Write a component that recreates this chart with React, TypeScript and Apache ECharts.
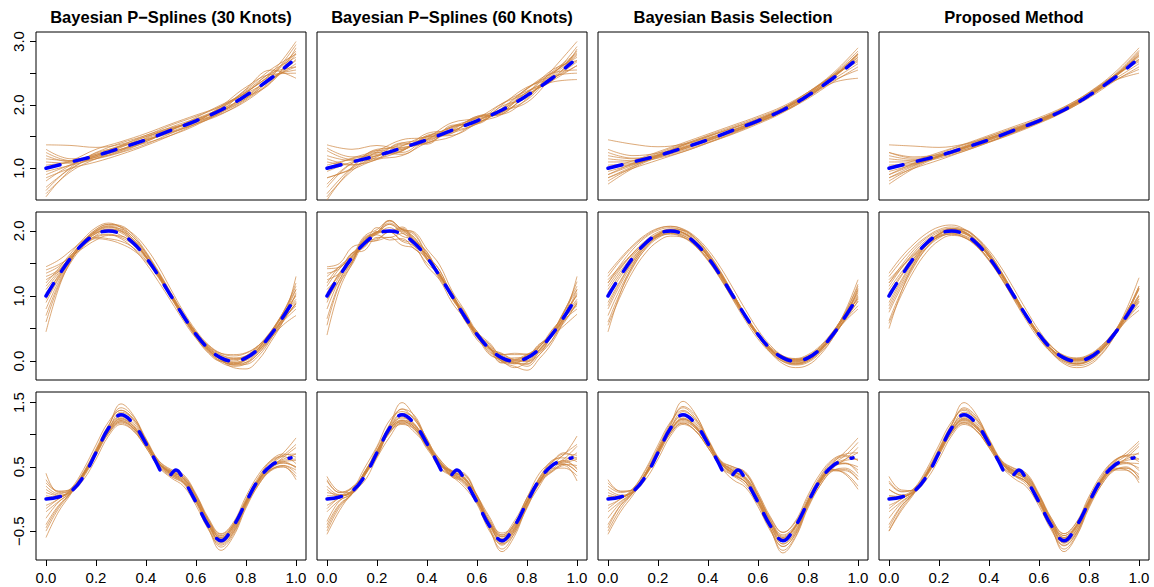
import React, { useEffect, useRef } from "react";
import * as echarts from "echarts";

// Panel titles (one per column)
const TITLES = [
  "Bayesian P\u2212Splines (30 Knots)",
  "Bayesian P\u2212Splines (60 Knots)",
  "Bayesian Basis Selection",
  "Proposed Method",
];

// Evaluation grids
const X_COARSE = [0, 0.1, 0.2, 0.3, 0.4, 0.5, 0.6, 0.7, 0.8, 0.9, 1.0];
const X_FINE = [0, 0.05, 0.1, 0.15, 0.2, 0.25, 0.3, 0.35, 0.4, 0.45, 0.5, 0.55, 0.6, 0.65, 0.7, 0.75, 0.8, 0.85, 0.9, 0.95, 1.0];

// True functions (blue dashed)
const TRUE1_X = [0, 0.1, 0.2, 0.3, 0.4, 0.5, 0.6, 0.7, 0.8, 0.9, 0.98];
const TRUE1_Y = [1.0, 1.1, 1.2, 1.32, 1.45, 1.6, 1.75, 1.92, 2.15, 2.42, 2.67];
const TRUE2_X = [0, 0.05, 0.1, 0.15, 0.2, 0.25, 0.3, 0.35, 0.4, 0.45, 0.5, 0.55, 0.6, 0.65, 0.7, 0.75, 0.8, 0.85, 0.9, 0.95, 0.98];
const TRUE2_Y = [1.0, 1.31, 1.59, 1.81, 1.95, 2.0, 1.95, 1.81, 1.59, 1.31, 1.0, 0.69, 0.41, 0.19, 0.05, 0.0, 0.05, 0.19, 0.41, 0.69, 0.87];
const TRUE3A_X = [0, 0.05, 0.1, 0.15, 0.2, 0.25, 0.3, 0.35, 0.4, 0.45, 0.48];
const TRUE3A_Y = [0.0, 0.03, 0.12, 0.35, 0.72, 1.1, 1.31, 1.17, 0.86, 0.5, 0.25];
const TRUE3B_X = [0.5, 0.52, 0.55, 0.6, 0.65, 0.7, 0.75, 0.8, 0.85, 0.9, 0.95, 0.98];
const TRUE3B_Y = [0.38, 0.45, 0.3, -0.05, -0.42, -0.65, -0.42, -0.05, 0.3, 0.52, 0.61, 0.64];

// Row 1 fitted curves (on X_COARSE)
const FITS_1_30 = [
  [1.37, 1.36, 1.33, 1.38, 1.5, 1.62, 1.74, 1.95, 2.2, 2.45, 2.55],
  [0.55, 0.98, 1.18, 1.28, 1.42, 1.6, 1.78, 1.95, 2.2, 2.5, 3.0],
  [0.8, 1.05, 1.2, 1.3, 1.44, 1.58, 1.72, 1.9, 2.12, 2.45, 2.82],
  [1.2, 1.1, 1.15, 1.25, 1.38, 1.55, 1.7, 1.85, 2.08, 2.38, 2.8],
  [1.1, 1.08, 1.25, 1.4, 1.52, 1.68, 1.82, 1.98, 2.22, 2.5, 2.6],
  [0.95, 1.05, 1.15, 1.28, 1.48, 1.65, 1.78, 1.9, 2.1, 2.4, 2.7],
  [0.7, 1.0, 1.2, 1.35, 1.46, 1.57, 1.7, 1.88, 2.18, 2.52, 2.75],
  [1.15, 1.12, 1.22, 1.3, 1.4, 1.52, 1.68, 1.9, 2.25, 2.55, 2.42],
  [1.05, 1.1, 1.18, 1.33, 1.5, 1.63, 1.76, 1.93, 2.12, 2.35, 2.9],
  [0.9, 1.06, 1.22, 1.36, 1.45, 1.56, 1.73, 1.98, 2.28, 2.48, 2.5],
  [1.25, 1.12, 1.17, 1.26, 1.42, 1.6, 1.8, 2.0, 2.18, 2.4, 2.65],
  [0.65, 1.02, 1.24, 1.34, 1.47, 1.62, 1.75, 1.88, 2.1, 2.44, 2.95],
  [1.0, 1.12, 1.3, 1.42, 1.55, 1.7, 1.84, 1.98, 2.2, 2.48, 2.85],
  [0.85, 1.0, 1.1, 1.22, 1.36, 1.52, 1.7, 1.9, 2.14, 2.42, 2.6],
  [1.3, 1.15, 1.2, 1.36, 1.52, 1.64, 1.74, 1.86, 2.06, 2.36, 2.72],
  [0.6, 0.95, 1.15, 1.3, 1.44, 1.6, 1.76, 1.96, 2.24, 2.56, 2.8],
];
const FITS_1_60 = [
  [1.37, 1.3, 1.36, 1.3, 1.52, 1.58, 1.8, 1.88, 2.25, 2.45, 2.5],
  [0.5, 1.0, 1.25, 1.22, 1.45, 1.56, 1.7, 1.98, 2.12, 2.55, 3.0],
  [0.75, 1.08, 1.15, 1.38, 1.4, 1.65, 1.72, 1.92, 2.2, 2.38, 2.88],
  [1.2, 1.12, 1.28, 1.25, 1.48, 1.55, 1.82, 1.85, 2.1, 2.5, 2.75],
  [1.1, 1.05, 1.18, 1.4, 1.38, 1.68, 1.7, 2.0, 2.28, 2.42, 2.62],
  [0.95, 1.1, 1.2, 1.27, 1.55, 1.6, 1.75, 1.9, 2.08, 2.48, 2.8],
  [0.6, 1.02, 1.3, 1.33, 1.42, 1.62, 1.8, 1.86, 2.18, 2.55, 2.7],
  [1.15, 1.06, 1.14, 1.35, 1.5, 1.52, 1.72, 2.02, 2.22, 2.36, 2.4],
  [1.05, 1.15, 1.22, 1.3, 1.46, 1.66, 1.78, 1.88, 2.14, 2.46, 2.92],
  [0.85, 1.0, 1.26, 1.36, 1.44, 1.58, 1.7, 1.95, 2.26, 2.5, 2.55],
  [1.28, 1.14, 1.16, 1.28, 1.5, 1.64, 1.76, 1.93, 2.16, 2.4, 2.68],
  [0.7, 1.08, 1.2, 1.32, 1.4, 1.6, 1.82, 1.9, 2.2, 2.44, 2.85],
  [1.0, 1.16, 1.28, 1.45, 1.5, 1.72, 1.8, 2.02, 2.2, 2.52, 2.82],
  [0.85, 0.98, 1.14, 1.2, 1.4, 1.5, 1.72, 1.85, 2.16, 2.38, 2.62],
  [1.32, 1.18, 1.24, 1.4, 1.46, 1.66, 1.72, 1.9, 2.04, 2.42, 2.7],
  [0.55, 0.96, 1.2, 1.28, 1.5, 1.58, 1.8, 1.94, 2.26, 2.5, 2.78],
];
const FITS_1_BBS = [
  [1.45, 1.38, 1.34, 1.38, 1.48, 1.6, 1.74, 1.9, 2.12, 2.35, 2.42],
  [0.75, 1.0, 1.18, 1.32, 1.46, 1.6, 1.76, 1.95, 2.2, 2.5, 2.9],
  [0.85, 1.03, 1.2, 1.36, 1.5, 1.64, 1.78, 1.95, 2.15, 2.42, 2.78],
  [1.2, 1.15, 1.2, 1.3, 1.43, 1.57, 1.72, 1.9, 2.15, 2.45, 2.75],
  [1.1, 1.1, 1.22, 1.36, 1.5, 1.63, 1.77, 1.93, 2.14, 2.4, 2.65],
  [0.95, 1.06, 1.17, 1.3, 1.44, 1.58, 1.73, 1.9, 2.13, 2.44, 2.82],
  [1.05, 1.08, 1.16, 1.26, 1.4, 1.55, 1.72, 1.92, 2.18, 2.47, 2.7],
  [1.3, 1.2, 1.24, 1.33, 1.45, 1.58, 1.72, 1.89, 2.1, 2.36, 2.6],
  [0.9, 1.05, 1.2, 1.34, 1.47, 1.61, 1.76, 1.94, 2.18, 2.48, 2.85],
  [1.15, 1.12, 1.18, 1.28, 1.41, 1.56, 1.74, 1.95, 2.2, 2.46, 2.68],
  [1.0, 1.07, 1.19, 1.32, 1.46, 1.6, 1.75, 1.93, 2.16, 2.43, 2.75],
  [0.8, 1.02, 1.21, 1.37, 1.52, 1.66, 1.8, 1.96, 2.17, 2.44, 2.8],
  [1.0, 1.12, 1.26, 1.4, 1.54, 1.68, 1.82, 1.98, 2.2, 2.45, 2.72],
  [0.85, 1.0, 1.13, 1.26, 1.4, 1.54, 1.7, 1.88, 2.12, 2.42, 2.8],
  [1.25, 1.16, 1.21, 1.31, 1.44, 1.58, 1.74, 1.92, 2.17, 2.47, 2.8],
  [0.9, 1.08, 1.24, 1.38, 1.51, 1.64, 1.78, 1.94, 2.14, 2.38, 2.55],
];
const FITS_1_PROP = [
  [1.37, 1.35, 1.33, 1.38, 1.48, 1.6, 1.75, 1.92, 2.14, 2.38, 2.5],
  [0.75, 1.0, 1.18, 1.33, 1.47, 1.61, 1.77, 1.96, 2.2, 2.5, 2.9],
  [0.85, 1.04, 1.2, 1.34, 1.48, 1.62, 1.77, 1.94, 2.16, 2.44, 2.8],
  [1.2, 1.14, 1.19, 1.29, 1.42, 1.57, 1.72, 1.9, 2.14, 2.43, 2.72],
  [1.1, 1.1, 1.2, 1.33, 1.47, 1.61, 1.76, 1.93, 2.15, 2.4, 2.65],
  [0.95, 1.06, 1.18, 1.31, 1.45, 1.59, 1.74, 1.91, 2.14, 2.45, 2.84],
  [1.05, 1.08, 1.16, 1.27, 1.41, 1.56, 1.73, 1.92, 2.17, 2.46, 2.7],
  [1.25, 1.18, 1.22, 1.32, 1.45, 1.59, 1.73, 1.9, 2.11, 2.37, 2.6],
  [0.9, 1.05, 1.19, 1.33, 1.47, 1.61, 1.76, 1.94, 2.17, 2.47, 2.86],
  [1.15, 1.12, 1.18, 1.29, 1.42, 1.57, 1.74, 1.94, 2.19, 2.46, 2.68],
  [1.0, 1.07, 1.19, 1.32, 1.46, 1.6, 1.75, 1.93, 2.16, 2.43, 2.76],
  [0.8, 1.02, 1.2, 1.35, 1.5, 1.64, 1.78, 1.95, 2.16, 2.43, 2.78],
  [1.0, 1.12, 1.25, 1.38, 1.52, 1.66, 1.8, 1.97, 2.19, 2.45, 2.72],
  [0.85, 1.0, 1.13, 1.27, 1.41, 1.55, 1.71, 1.89, 2.13, 2.43, 2.82],
  [1.25, 1.16, 1.21, 1.31, 1.44, 1.58, 1.73, 1.91, 2.16, 2.46, 2.78],
  [0.9, 1.08, 1.23, 1.37, 1.5, 1.63, 1.77, 1.93, 2.13, 2.38, 2.56],
];

// Row 2 fitted curves (on X_FINE)
const FITS_2_30 = [
  [0.45, 1.11, 1.54, 1.81, 1.97, 2.0, 1.93, 1.81, 1.61, 1.34, 1.02, 0.69, 0.39, 0.16, 0.0, -0.05, 0.02, 0.19, 0.46, 0.74, 1.0],
  [1.45, 1.55, 1.7, 1.86, 1.98, 2.05, 2.03, 1.9, 1.66, 1.36, 1.03, 0.71, 0.44, 0.23, 0.1, 0.05, 0.08, 0.18, 0.36, 0.56, 0.7],
  [1.3, 1.4, 1.62, 1.85, 2.02, 2.1, 2.08, 1.93, 1.68, 1.38, 1.05, 0.73, 0.45, 0.22, 0.05, -0.04, -0.02, 0.12, 0.35, 0.65, 1.3],
  [0.8, 1.22, 1.56, 1.8, 1.92, 1.95, 1.9, 1.78, 1.58, 1.32, 1.02, 0.71, 0.43, 0.2, 0.06, 0.02, 0.08, 0.22, 0.42, 0.65, 0.85],
  [1.1, 1.35, 1.6, 1.8, 1.9, 1.88, 1.84, 1.74, 1.55, 1.28, 0.97, 0.66, 0.38, 0.16, 0.03, -0.02, 0.04, 0.2, 0.45, 0.72, 0.95],
  [1.2, 1.42, 1.66, 1.88, 2.05, 2.12, 2.05, 1.86, 1.61, 1.31, 0.99, 0.68, 0.4, 0.18, 0.02, -0.1, -0.12, 0.02, 0.3, 0.62, 1.05],
  [0.95, 1.28, 1.57, 1.8, 1.96, 2.03, 1.99, 1.84, 1.6, 1.3, 0.98, 0.67, 0.41, 0.21, 0.09, 0.04, 0.06, 0.16, 0.36, 0.62, 0.9],
  [1.05, 1.3, 1.58, 1.78, 1.88, 1.86, 1.8, 1.7, 1.53, 1.29, 1.0, 0.7, 0.42, 0.18, 0.02, -0.06, -0.02, 0.15, 0.42, 0.76, 1.15],
  [1.25, 1.38, 1.58, 1.78, 1.93, 2.02, 2.0, 1.87, 1.64, 1.35, 1.01, 0.68, 0.38, 0.14, -0.02, -0.08, -0.04, 0.12, 0.38, 0.7, 1.1],
  [0.7, 1.18, 1.55, 1.83, 1.99, 2.06, 2.0, 1.83, 1.59, 1.3, 1.0, 0.7, 0.44, 0.24, 0.12, 0.1, 0.13, 0.24, 0.42, 0.62, 0.8],
  [1.35, 1.45, 1.63, 1.82, 1.96, 2.02, 1.97, 1.82, 1.6, 1.32, 1.01, 0.7, 0.42, 0.2, 0.07, 0.03, 0.06, 0.19, 0.4, 0.64, 0.88],
  [0.9, 1.26, 1.56, 1.82, 2.0, 2.07, 2.02, 1.86, 1.62, 1.32, 0.99, 0.67, 0.39, 0.17, 0.03, -0.02, 0.01, 0.16, 0.42, 0.74, 1.2],
  [1.15, 1.38, 1.62, 1.84, 2.0, 2.08, 2.06, 1.95, 1.74, 1.45, 1.1, 0.76, 0.47, 0.25, 0.12, 0.08, 0.12, 0.24, 0.44, 0.66, 0.88],
  [0.6, 1.15, 1.52, 1.76, 1.9, 1.94, 1.88, 1.73, 1.5, 1.22, 0.92, 0.62, 0.35, 0.14, 0.0, -0.04, 0.03, 0.2, 0.45, 0.76, 1.1],
  [1.0, 1.32, 1.6, 1.84, 2.02, 2.1, 2.06, 1.9, 1.66, 1.36, 1.04, 0.72, 0.43, 0.19, 0.03, -0.06, -0.05, 0.08, 0.34, 0.68, 1.02],
  [1.4, 1.48, 1.6, 1.74, 1.86, 1.93, 1.92, 1.8, 1.6, 1.33, 1.0, 0.66, 0.36, 0.12, 0.0, 0.0, 0.08, 0.24, 0.46, 0.7, 0.92],
];
const FITS_2_60 = [
  [0.4, 1.1, 1.5, 1.85, 1.95, 2.05, 1.92, 1.85, 1.58, 1.35, 1.0, 0.72, 0.38, 0.2, -0.02, 0.02, 0.0, 0.22, 0.44, 0.76, 1.0],
  [1.45, 1.5, 1.75, 1.82, 2.05, 2.0, 2.06, 1.86, 1.68, 1.32, 1.06, 0.68, 0.46, 0.2, 0.12, 0.03, 0.1, 0.16, 0.38, 0.55, 0.72],
  [1.3, 1.45, 1.58, 1.9, 1.98, 2.15, 2.03, 1.96, 1.64, 1.4, 1.02, 0.76, 0.42, 0.25, 0.02, -0.02, -0.05, 0.14, 0.32, 0.68, 1.3],
  [0.8, 1.25, 1.52, 1.84, 1.88, 1.98, 1.86, 1.8, 1.55, 1.35, 0.99, 0.73, 0.4, 0.22, 0.04, 0.05, 0.06, 0.24, 0.4, 0.67, 0.85],
  [1.1, 1.32, 1.65, 1.76, 1.94, 1.86, 1.88, 1.72, 1.58, 1.26, 1.0, 0.64, 0.4, 0.14, 0.06, -0.04, 0.06, 0.18, 0.47, 0.7, 0.95],
  [1.2, 1.46, 1.62, 1.92, 2.02, 2.16, 2.02, 1.9, 1.58, 1.34, 0.96, 0.7, 0.37, 0.2, -0.01, -0.08, -0.14, 0.04, 0.28, 0.64, 1.05],
  [0.95, 1.25, 1.6, 1.78, 1.99, 2.0, 2.02, 1.82, 1.62, 1.28, 1.0, 0.65, 0.43, 0.19, 0.11, 0.02, 0.08, 0.14, 0.38, 0.6, 0.9],
  [1.05, 1.34, 1.55, 1.82, 1.85, 1.9, 1.78, 1.73, 1.5, 1.32, 0.98, 0.72, 0.4, 0.2, 0.0, -0.04, -0.04, 0.17, 0.4, 0.78, 1.15],
  [1.25, 1.35, 1.62, 1.75, 1.97, 1.98, 2.04, 1.84, 1.67, 1.32, 1.04, 0.66, 0.4, 0.12, 0.0, -0.1, -0.02, 0.1, 0.4, 0.68, 1.1],
  [0.65, 1.2, 1.52, 1.86, 1.96, 2.1, 1.97, 1.86, 1.56, 1.33, 0.97, 0.73, 0.42, 0.26, 0.1, 0.12, 0.11, 0.26, 0.4, 0.64, 0.8],
  [1.35, 1.42, 1.66, 1.79, 1.99, 1.98, 2.0, 1.79, 1.63, 1.29, 1.04, 0.67, 0.45, 0.18, 0.09, 0.01, 0.08, 0.17, 0.42, 0.62, 0.88],
  [0.9, 1.3, 1.52, 1.86, 1.97, 2.1, 1.99, 1.89, 1.59, 1.35, 0.96, 0.7, 0.36, 0.2, 0.01, 0.0, -0.01, 0.18, 0.4, 0.76, 1.22],
  [1.15, 1.42, 1.6, 1.88, 1.98, 2.12, 2.02, 1.98, 1.72, 1.48, 1.08, 0.78, 0.45, 0.28, 0.1, 0.1, 0.1, 0.26, 0.42, 0.68, 0.88],
  [0.55, 1.18, 1.48, 1.8, 1.86, 1.98, 1.84, 1.76, 1.46, 1.25, 0.9, 0.65, 0.33, 0.17, -0.03, 0.0, 0.01, 0.22, 0.43, 0.78, 1.1],
  [1.0, 1.36, 1.56, 1.88, 1.98, 2.16, 2.02, 1.94, 1.62, 1.4, 1.0, 0.75, 0.4, 0.22, 0.0, -0.02, -0.08, 0.1, 0.32, 0.7, 1.02],
  [1.42, 1.44, 1.66, 1.7, 1.9, 1.9, 1.96, 1.76, 1.64, 1.3, 1.03, 0.63, 0.38, 0.1, 0.03, -0.03, 0.1, 0.22, 0.48, 0.68, 0.92],
];
const FITS_2_BBS = [
  [0.45, 1.05, 1.48, 1.76, 1.93, 2.0, 1.97, 1.84, 1.63, 1.35, 1.03, 0.71, 0.42, 0.19, 0.04, -0.02, 0.02, 0.16, 0.38, 0.66, 1.0],
  [1.35, 1.58, 1.78, 1.94, 2.04, 2.07, 2.02, 1.88, 1.65, 1.36, 1.03, 0.7, 0.41, 0.18, 0.04, 0.0, 0.05, 0.19, 0.4, 0.64, 0.85],
  [1.2, 1.48, 1.72, 1.9, 2.01, 2.05, 2.0, 1.86, 1.63, 1.34, 1.01, 0.68, 0.38, 0.14, -0.01, -0.06, -0.02, 0.13, 0.36, 0.68, 1.1],
  [0.7, 1.12, 1.46, 1.72, 1.89, 1.96, 1.93, 1.81, 1.6, 1.33, 1.02, 0.71, 0.43, 0.21, 0.07, 0.03, 0.08, 0.22, 0.43, 0.7, 0.98],
  [1.05, 1.34, 1.59, 1.79, 1.92, 1.96, 1.91, 1.77, 1.55, 1.28, 0.97, 0.66, 0.39, 0.18, 0.05, 0.01, 0.06, 0.21, 0.45, 0.74, 1.05],
  [0.9, 1.24, 1.54, 1.78, 1.94, 2.01, 1.98, 1.84, 1.61, 1.32, 1.0, 0.68, 0.39, 0.16, 0.02, -0.03, 0.02, 0.17, 0.41, 0.72, 1.12],
  [1.15, 1.42, 1.66, 1.85, 1.98, 2.02, 1.97, 1.83, 1.6, 1.31, 0.99, 0.67, 0.39, 0.17, 0.03, -0.01, 0.04, 0.18, 0.4, 0.66, 0.92],
  [0.8, 1.18, 1.5, 1.75, 1.91, 1.98, 1.95, 1.83, 1.62, 1.34, 1.02, 0.7, 0.42, 0.21, 0.08, 0.04, 0.1, 0.24, 0.46, 0.72, 0.95],
  [1.25, 1.46, 1.66, 1.83, 1.94, 1.98, 1.93, 1.79, 1.57, 1.29, 0.98, 0.67, 0.4, 0.19, 0.06, 0.02, 0.06, 0.19, 0.4, 0.62, 0.8],
  [1.0, 1.3, 1.57, 1.8, 1.95, 2.01, 1.97, 1.83, 1.6, 1.31, 0.99, 0.67, 0.38, 0.15, 0.0, -0.05, 0.0, 0.16, 0.42, 0.78, 1.25],
  [0.6, 1.06, 1.44, 1.73, 1.92, 2.02, 2.01, 1.89, 1.67, 1.38, 1.04, 0.7, 0.39, 0.13, -0.04, -0.1, -0.06, 0.1, 0.36, 0.7, 1.08],
  [1.1, 1.38, 1.62, 1.82, 1.96, 2.01, 1.97, 1.83, 1.61, 1.33, 1.01, 0.69, 0.4, 0.18, 0.04, 0.0, 0.04, 0.19, 0.43, 0.72, 1.02],
  [1.3, 1.55, 1.76, 1.92, 2.03, 2.07, 2.03, 1.91, 1.71, 1.44, 1.12, 0.79, 0.48, 0.24, 0.08, 0.02, 0.05, 0.17, 0.38, 0.64, 0.92],
  [0.55, 1.0, 1.38, 1.66, 1.84, 1.92, 1.9, 1.78, 1.56, 1.27, 0.94, 0.62, 0.34, 0.13, 0.0, -0.04, 0.02, 0.18, 0.44, 0.76, 1.15],
  [0.85, 1.22, 1.53, 1.78, 1.95, 2.03, 2.01, 1.88, 1.66, 1.37, 1.04, 0.71, 0.41, 0.17, 0.02, -0.04, 0.0, 0.15, 0.4, 0.74, 1.18],
  [1.2, 1.44, 1.64, 1.8, 1.91, 1.95, 1.9, 1.76, 1.54, 1.26, 0.95, 0.65, 0.38, 0.18, 0.06, 0.03, 0.08, 0.22, 0.44, 0.7, 0.96],
];
const FITS_2_PROP = [
  [0.5, 1.07, 1.5, 1.78, 1.95, 2.02, 1.98, 1.85, 1.63, 1.35, 1.03, 0.7, 0.41, 0.18, 0.03, -0.02, 0.02, 0.17, 0.4, 0.68, 1.0],
  [1.35, 1.6, 1.8, 1.96, 2.06, 2.09, 2.03, 1.88, 1.64, 1.35, 1.02, 0.69, 0.4, 0.18, 0.04, 0.01, 0.06, 0.2, 0.41, 0.64, 0.85],
  [1.2, 1.47, 1.71, 1.89, 2.0, 2.04, 1.99, 1.85, 1.62, 1.33, 1.0, 0.67, 0.37, 0.13, -0.02, -0.07, -0.03, 0.12, 0.37, 0.7, 1.12],
  [0.75, 1.14, 1.47, 1.73, 1.89, 1.96, 1.93, 1.81, 1.6, 1.33, 1.02, 0.71, 0.43, 0.22, 0.08, 0.04, 0.09, 0.23, 0.44, 0.7, 0.96],
  [1.05, 1.33, 1.58, 1.78, 1.91, 1.95, 1.9, 1.77, 1.55, 1.28, 0.98, 0.67, 0.4, 0.19, 0.06, 0.02, 0.07, 0.21, 0.44, 0.72, 1.02],
  [0.9, 1.25, 1.55, 1.79, 1.95, 2.02, 1.99, 1.85, 1.62, 1.33, 1.0, 0.68, 0.39, 0.16, 0.02, -0.04, 0.01, 0.16, 0.41, 0.74, 1.15],
  [1.15, 1.43, 1.67, 1.86, 1.98, 2.03, 1.98, 1.84, 1.61, 1.32, 1.0, 0.68, 0.4, 0.18, 0.04, 0.0, 0.05, 0.19, 0.41, 0.67, 0.92],
  [0.8, 1.18, 1.5, 1.75, 1.91, 1.98, 1.96, 1.84, 1.63, 1.35, 1.03, 0.71, 0.43, 0.22, 0.09, 0.05, 0.1, 0.24, 0.45, 0.7, 0.92],
  [1.25, 1.45, 1.65, 1.82, 1.93, 1.97, 1.92, 1.78, 1.56, 1.28, 0.97, 0.66, 0.39, 0.18, 0.06, 0.03, 0.07, 0.2, 0.4, 0.62, 0.78],
  [1.0, 1.31, 1.58, 1.81, 1.96, 2.02, 1.97, 1.83, 1.6, 1.31, 0.99, 0.67, 0.38, 0.15, 0.0, -0.05, 0.0, 0.16, 0.43, 0.8, 1.28],
  [0.62, 1.08, 1.45, 1.74, 1.93, 2.03, 2.02, 1.9, 1.67, 1.37, 1.03, 0.69, 0.38, 0.13, -0.04, -0.1, -0.06, 0.1, 0.37, 0.72, 1.1],
  [1.1, 1.37, 1.61, 1.81, 1.95, 2.0, 1.96, 1.82, 1.6, 1.32, 1.0, 0.69, 0.4, 0.18, 0.04, 0.0, 0.04, 0.19, 0.42, 0.7, 1.0],
  [1.3, 1.54, 1.75, 1.91, 2.02, 2.06, 2.02, 1.9, 1.7, 1.43, 1.11, 0.78, 0.47, 0.23, 0.07, 0.02, 0.05, 0.17, 0.38, 0.64, 0.9],
  [0.58, 1.02, 1.39, 1.67, 1.85, 1.93, 1.9, 1.78, 1.56, 1.27, 0.94, 0.62, 0.34, 0.13, 0.0, -0.04, 0.02, 0.18, 0.44, 0.76, 1.12],
  [0.85, 1.22, 1.53, 1.78, 1.95, 2.03, 2.01, 1.88, 1.66, 1.37, 1.04, 0.71, 0.41, 0.17, 0.02, -0.04, 0.0, 0.15, 0.4, 0.74, 1.15],
  [1.2, 1.43, 1.63, 1.8, 1.91, 1.95, 1.9, 1.76, 1.54, 1.26, 0.95, 0.65, 0.38, 0.18, 0.06, 0.03, 0.08, 0.22, 0.44, 0.7, 0.95],
];

// Row 3 fitted curves (on X_FINE)
const FITS_3_30 = [
  [-0.6, -0.2, 0.08, 0.38, 0.74, 1.1, 1.3, 1.18, 0.88, 0.56, 0.38, 0.26, -0.02, -0.4, -0.65, -0.45, -0.06, 0.28, 0.5, 0.58, 0.6],
  [0.4, 0.1, 0.12, 0.34, 0.68, 1.02, 1.2, 1.08, 0.82, 0.55, 0.42, 0.32, 0.04, -0.34, -0.58, -0.4, -0.02, 0.3, 0.55, 0.72, 0.95],
  [0.2, 0.08, 0.16, 0.42, 0.78, 1.15, 1.38, 1.25, 0.92, 0.58, 0.4, 0.28, -0.03, -0.42, -0.7, -0.52, -0.1, 0.24, 0.45, 0.52, 0.4],
  [-0.3, -0.05, 0.1, 0.36, 0.7, 1.04, 1.22, 1.1, 0.84, 0.54, 0.36, 0.25, -0.02, -0.38, -0.6, -0.4, -0.03, 0.32, 0.6, 0.7, 0.65],
  [0.1, 0.05, 0.14, 0.4, 0.75, 1.12, 1.48, 1.3, 0.9, 0.52, 0.35, 0.24, -0.06, -0.45, -0.75, -0.55, -0.12, 0.22, 0.44, 0.5, 0.3],
  [-0.45, -0.12, 0.1, 0.4, 0.76, 1.1, 1.28, 1.15, 0.86, 0.57, 0.43, 0.35, 0.06, -0.32, -0.55, -0.38, 0.0, 0.34, 0.58, 0.66, 0.55],
  [0.0, 0.02, 0.13, 0.38, 0.71, 1.06, 1.25, 1.13, 0.85, 0.55, 0.4, 0.3, 0.0, -0.38, -0.62, -0.43, -0.05, 0.28, 0.48, 0.56, 0.5],
  [-0.15, 0.0, 0.12, 0.36, 0.69, 1.02, 1.18, 1.06, 0.8, 0.52, 0.38, 0.28, -0.02, -0.4, -0.68, -0.5, -0.08, 0.26, 0.46, 0.52, 0.45],
  [0.25, 0.12, 0.16, 0.4, 0.74, 1.08, 1.26, 1.13, 0.85, 0.55, 0.41, 0.33, 0.03, -0.36, -0.61, -0.42, -0.04, 0.3, 0.52, 0.62, 0.7],
  [-0.2, -0.04, 0.11, 0.37, 0.72, 1.08, 1.35, 1.24, 0.92, 0.57, 0.38, 0.26, -0.04, -0.46, -0.8, -0.58, -0.14, 0.22, 0.48, 0.65, 0.8],
  [0.05, 0.03, 0.13, 0.39, 0.73, 1.07, 1.24, 1.12, 0.86, 0.57, 0.44, 0.36, 0.06, -0.33, -0.57, -0.4, -0.03, 0.3, 0.52, 0.58, 0.48],
  [-0.4, -0.1, 0.09, 0.37, 0.72, 1.06, 1.22, 1.1, 0.84, 0.55, 0.4, 0.3, 0.0, -0.38, -0.66, -0.48, -0.06, 0.28, 0.5, 0.6, 0.62],
  [-0.1, 0.0, 0.16, 0.46, 0.84, 1.2, 1.38, 1.22, 0.9, 0.6, 0.46, 0.38, 0.08, -0.3, -0.54, -0.36, 0.04, 0.38, 0.6, 0.68, 0.7],
  [0.15, 0.06, 0.1, 0.3, 0.62, 0.98, 1.16, 1.06, 0.8, 0.5, 0.33, 0.2, -0.1, -0.48, -0.72, -0.52, -0.08, 0.28, 0.5, 0.56, 0.5],
  [-0.5, -0.15, 0.1, 0.4, 0.76, 1.14, 1.42, 1.28, 0.94, 0.6, 0.44, 0.32, 0.0, -0.4, -0.66, -0.47, -0.06, 0.3, 0.54, 0.68, 0.85],
  [0.3, 0.12, 0.14, 0.38, 0.72, 1.04, 1.2, 1.1, 0.84, 0.56, 0.42, 0.33, 0.04, -0.34, -0.6, -0.44, -0.06, 0.26, 0.46, 0.5, 0.35],
];
const FITS_3_60 = [
  [-0.55, -0.18, 0.1, 0.36, 0.76, 1.08, 1.32, 1.16, 0.9, 0.54, 0.4, 0.24, 0.0, -0.42, -0.63, -0.47, -0.04, 0.26, 0.52, 0.56, 0.62],
  [0.35, 0.12, 0.1, 0.36, 0.66, 1.04, 1.18, 1.1, 0.8, 0.57, 0.4, 0.34, 0.02, -0.36, -0.56, -0.42, 0.0, 0.28, 0.57, 0.7, 0.98],
  [0.2, 0.06, 0.18, 0.4, 0.8, 1.13, 1.4, 1.23, 0.94, 0.56, 0.42, 0.26, -0.01, -0.44, -0.72, -0.5, -0.12, 0.26, 0.43, 0.54, 0.42],
  [-0.35, -0.03, 0.08, 0.38, 0.68, 1.06, 1.2, 1.12, 0.82, 0.56, 0.34, 0.27, -0.04, -0.36, -0.62, -0.38, -0.05, 0.34, 0.58, 0.72, 0.62],
  [0.1, 0.07, 0.12, 0.42, 0.73, 1.14, 1.5, 1.28, 0.92, 0.5, 0.37, 0.22, -0.04, -0.47, -0.78, -0.53, -0.14, 0.24, 0.42, 0.52, 0.28],
  [-0.45, -0.1, 0.08, 0.42, 0.74, 1.12, 1.26, 1.17, 0.84, 0.59, 0.41, 0.37, 0.04, -0.34, -0.53, -0.4, 0.02, 0.32, 0.6, 0.64, 0.58],
  [0.0, 0.04, 0.11, 0.4, 0.69, 1.08, 1.23, 1.15, 0.83, 0.57, 0.38, 0.32, -0.02, -0.36, -0.64, -0.41, -0.07, 0.3, 0.46, 0.58, 0.48],
  [-0.15, 0.02, 0.1, 0.38, 0.67, 1.04, 1.16, 1.08, 0.78, 0.54, 0.36, 0.3, -0.04, -0.38, -0.7, -0.48, -0.1, 0.28, 0.44, 0.54, 0.42],
  [0.28, 0.1, 0.18, 0.38, 0.76, 1.06, 1.28, 1.11, 0.87, 0.53, 0.43, 0.31, 0.05, -0.38, -0.59, -0.44, -0.02, 0.28, 0.54, 0.6, 0.72],
  [-0.2, -0.02, 0.09, 0.39, 0.7, 1.1, 1.33, 1.26, 0.9, 0.59, 0.36, 0.28, -0.06, -0.46, -0.82, -0.58, -0.12, 0.2, 0.5, 0.63, 0.82],
  [0.05, 0.05, 0.11, 0.41, 0.71, 1.09, 1.22, 1.14, 0.84, 0.59, 0.42, 0.38, 0.04, -0.31, -0.59, -0.38, -0.05, 0.32, 0.5, 0.6, 0.46],
  [-0.4, -0.08, 0.07, 0.39, 0.7, 1.08, 1.2, 1.12, 0.82, 0.57, 0.38, 0.32, -0.02, -0.4, -0.64, -0.5, -0.04, 0.26, 0.52, 0.58, 0.65],
  [-0.1, 0.02, 0.14, 0.48, 0.82, 1.22, 1.36, 1.24, 0.88, 0.62, 0.44, 0.4, 0.06, -0.28, -0.56, -0.34, 0.02, 0.4, 0.58, 0.7, 0.68],
  [0.15, 0.04, 0.12, 0.28, 0.64, 0.96, 1.18, 1.04, 0.82, 0.48, 0.35, 0.18, -0.08, -0.5, -0.7, -0.54, -0.06, 0.26, 0.52, 0.54, 0.52],
  [-0.5, -0.13, 0.08, 0.42, 0.74, 1.16, 1.4, 1.3, 0.92, 0.62, 0.42, 0.34, -0.02, -0.38, -0.68, -0.45, -0.08, 0.32, 0.52, 0.7, 0.85],
  [0.3, 0.1, 0.16, 0.36, 0.74, 1.02, 1.22, 1.08, 0.86, 0.54, 0.44, 0.31, 0.06, -0.36, -0.58, -0.46, -0.04, 0.24, 0.48, 0.48, 0.36],
];
const FITS_3_BBS = [
  [-0.55, -0.2, 0.06, 0.36, 0.74, 1.1, 1.32, 1.18, 0.88, 0.55, 0.4, 0.26, -0.04, -0.42, -0.66, -0.45, -0.02, 0.32, 0.52, 0.55, 0.5],
  [0.3, 0.12, 0.14, 0.36, 0.68, 1.02, 1.18, 1.06, 0.8, 0.56, 0.48, 0.4, 0.06, -0.34, -0.58, -0.42, -0.04, 0.3, 0.56, 0.74, 0.95],
  [0.1, 0.04, 0.16, 0.44, 0.8, 1.18, 1.42, 1.26, 0.92, 0.58, 0.44, 0.3, -0.05, -0.46, -0.74, -0.55, -0.1, 0.26, 0.44, 0.4, 0.2],
  [-0.3, -0.06, 0.1, 0.38, 0.72, 1.06, 1.24, 1.12, 0.85, 0.55, 0.38, 0.27, -0.02, -0.38, -0.62, -0.42, -0.02, 0.34, 0.58, 0.66, 0.6],
  [0.05, 0.03, 0.12, 0.4, 0.78, 1.16, 1.52, 1.32, 0.9, 0.5, 0.36, 0.22, -0.08, -0.48, -0.8, -0.58, -0.12, 0.22, 0.44, 0.48, 0.35],
  [-0.45, -0.1, 0.1, 0.4, 0.76, 1.11, 1.29, 1.15, 0.86, 0.57, 0.46, 0.38, 0.07, -0.3, -0.52, -0.36, 0.02, 0.36, 0.6, 0.68, 0.6],
  [0.0, 0.02, 0.13, 0.38, 0.72, 1.06, 1.25, 1.13, 0.85, 0.56, 0.42, 0.32, 0.0, -0.38, -0.62, -0.43, -0.04, 0.3, 0.5, 0.55, 0.45],
  [-0.15, 0.0, 0.12, 0.36, 0.69, 1.02, 1.18, 1.06, 0.8, 0.52, 0.37, 0.26, -0.04, -0.42, -0.7, -0.52, -0.08, 0.26, 0.44, 0.44, 0.3],
  [0.2, 0.1, 0.16, 0.4, 0.74, 1.08, 1.26, 1.13, 0.85, 0.55, 0.42, 0.34, 0.03, -0.36, -0.6, -0.42, -0.02, 0.32, 0.54, 0.62, 0.72],
  [-0.2, -0.04, 0.11, 0.37, 0.72, 1.1, 1.36, 1.24, 0.92, 0.57, 0.39, 0.26, -0.05, -0.46, -0.84, -0.6, -0.14, 0.22, 0.48, 0.62, 0.8],
  [0.05, 0.03, 0.13, 0.39, 0.73, 1.07, 1.24, 1.12, 0.86, 0.58, 0.5, 0.4, 0.06, -0.32, -0.56, -0.4, -0.02, 0.3, 0.52, 0.56, 0.4],
  [-0.4, -0.1, 0.09, 0.37, 0.72, 1.06, 1.22, 1.1, 0.84, 0.55, 0.4, 0.3, 0.0, -0.38, -0.66, -0.48, -0.06, 0.28, 0.5, 0.6, 0.62],
  [-0.1, 0.0, 0.16, 0.46, 0.84, 1.2, 1.38, 1.22, 0.9, 0.6, 0.5, 0.42, 0.1, -0.28, -0.52, -0.34, 0.06, 0.4, 0.62, 0.7, 0.72],
  [0.15, 0.06, 0.1, 0.3, 0.62, 0.98, 1.16, 1.06, 0.8, 0.5, 0.3, 0.18, -0.12, -0.5, -0.74, -0.54, -0.08, 0.28, 0.46, 0.38, 0.15],
  [-0.5, -0.15, 0.1, 0.4, 0.76, 1.14, 1.44, 1.3, 0.94, 0.6, 0.44, 0.32, 0.0, -0.42, -0.7, -0.5, -0.06, 0.3, 0.54, 0.68, 0.88],
  [0.25, 0.12, 0.14, 0.38, 0.72, 1.04, 1.2, 1.1, 0.84, 0.56, 0.44, 0.34, 0.04, -0.34, -0.6, -0.44, -0.06, 0.26, 0.46, 0.46, 0.3],
];
const FITS_3_PROP = [
  [-0.5, -0.18, 0.08, 0.38, 0.74, 1.1, 1.3, 1.18, 0.88, 0.56, 0.38, 0.27, -0.03, -0.41, -0.65, -0.45, -0.04, 0.3, 0.52, 0.56, 0.55],
  [0.35, 0.14, 0.13, 0.35, 0.68, 1.02, 1.19, 1.07, 0.81, 0.56, 0.45, 0.36, 0.05, -0.34, -0.57, -0.41, -0.03, 0.3, 0.56, 0.72, 0.9],
  [0.15, 0.06, 0.16, 0.43, 0.79, 1.16, 1.4, 1.25, 0.92, 0.58, 0.42, 0.29, -0.04, -0.44, -0.72, -0.53, -0.1, 0.25, 0.45, 0.45, 0.25],
  [-0.3, -0.06, 0.1, 0.37, 0.71, 1.05, 1.23, 1.11, 0.84, 0.55, 0.37, 0.26, -0.02, -0.38, -0.61, -0.41, -0.03, 0.33, 0.58, 0.68, 0.62],
  [0.05, 0.04, 0.13, 0.4, 0.77, 1.15, 1.5, 1.31, 0.9, 0.51, 0.36, 0.23, -0.07, -0.46, -0.78, -0.56, -0.12, 0.22, 0.44, 0.5, 0.32],
  [-0.45, -0.11, 0.1, 0.4, 0.76, 1.11, 1.28, 1.15, 0.86, 0.57, 0.44, 0.36, 0.06, -0.31, -0.54, -0.37, 0.01, 0.35, 0.59, 0.66, 0.58],
  [0.0, 0.02, 0.13, 0.38, 0.72, 1.06, 1.25, 1.13, 0.85, 0.55, 0.41, 0.31, 0.0, -0.38, -0.62, -0.43, -0.05, 0.29, 0.49, 0.55, 0.48],
  [-0.15, 0.0, 0.12, 0.36, 0.69, 1.02, 1.18, 1.06, 0.8, 0.52, 0.37, 0.27, -0.03, -0.41, -0.69, -0.51, -0.08, 0.26, 0.45, 0.48, 0.38],
  [0.25, 0.11, 0.16, 0.4, 0.74, 1.08, 1.26, 1.13, 0.85, 0.55, 0.42, 0.33, 0.03, -0.36, -0.6, -0.42, -0.03, 0.31, 0.53, 0.62, 0.72],
  [-0.2, -0.04, 0.11, 0.37, 0.72, 1.09, 1.35, 1.24, 0.92, 0.57, 0.38, 0.26, -0.05, -0.45, -0.82, -0.58, -0.14, 0.22, 0.48, 0.64, 0.82],
  [0.05, 0.03, 0.13, 0.39, 0.73, 1.07, 1.24, 1.12, 0.86, 0.58, 0.47, 0.38, 0.06, -0.33, -0.57, -0.4, -0.02, 0.3, 0.52, 0.57, 0.44],
  [-0.4, -0.1, 0.09, 0.37, 0.72, 1.06, 1.22, 1.1, 0.84, 0.55, 0.4, 0.3, 0.0, -0.38, -0.66, -0.48, -0.06, 0.28, 0.5, 0.6, 0.62],
  [-0.1, 0.0, 0.16, 0.46, 0.84, 1.2, 1.38, 1.22, 0.9, 0.6, 0.48, 0.4, 0.08, -0.3, -0.54, -0.36, 0.04, 0.38, 0.6, 0.68, 0.7],
  [0.15, 0.06, 0.1, 0.3, 0.62, 0.98, 1.16, 1.06, 0.8, 0.5, 0.32, 0.19, -0.11, -0.49, -0.73, -0.53, -0.08, 0.28, 0.48, 0.45, 0.3],
  [-0.5, -0.15, 0.1, 0.4, 0.76, 1.14, 1.42, 1.28, 0.94, 0.6, 0.44, 0.32, 0.0, -0.41, -0.68, -0.48, -0.06, 0.3, 0.54, 0.68, 0.86],
  [0.28, 0.12, 0.14, 0.38, 0.72, 1.04, 1.2, 1.1, 0.84, 0.56, 0.43, 0.34, 0.04, -0.34, -0.6, -0.44, -0.06, 0.26, 0.46, 0.48, 0.34],
];

// Axis ranges, ticks and labels per row
const Y_RANGES = [[0.5, 3.15], [-0.29, 2.29], [-0.95, 1.665]];
const Y_TICKS = [[1, 1.5, 2, 2.5, 3], [0, 0.5, 1, 1.5, 2], [-0.5, 0, 0.5, 1, 1.5]];
const Y_LABELS = [[1, 2, 3], [0, 1, 2], [-0.5, 0.5, 1.5]];
const X_TICKS = [0, 0.2, 0.4, 0.6, 0.8, 1.0];

const ROWS = [
  { xs: X_COARSE, fits: [FITS_1_30, FITS_1_60, FITS_1_BBS, FITS_1_PROP], truth: [[TRUE1_X, TRUE1_Y]] },
  { xs: X_FINE, fits: [FITS_2_30, FITS_2_60, FITS_2_BBS, FITS_2_PROP], truth: [[TRUE2_X, TRUE2_Y]] },
  { xs: X_FINE, fits: [FITS_3_30, FITS_3_60, FITS_3_BBS, FITS_3_PROP], truth: [[TRUE3A_X, TRUE3A_Y], [TRUE3B_X, TRUE3B_Y]] },
];

const FONT = '"Liberation Sans", Arial, Helvetica, sans-serif';
const ORANGE = "#CD853F";
const BLUE = "#0000FF";

const PANEL_LEFT = [36, 317, 598, 879];
const PANEL_TOP = [32, 212, 392];
const PANEL_W = 270;
const PANEL_H = 168;

const fmt = (v: number) => (v < 0 ? "\u2212" : "") + Math.abs(v).toFixed(1);

function buildOption() {
  const grid: any[] = [];
  const xAxis: any[] = [];
  const yAxis: any[] = [];
  const series: any[] = [];
  const graphic: any[] = [];

  TITLES.forEach((t, c) => {
    graphic.push({
      type: "text",
      x: PANEL_LEFT[c] + PANEL_W / 2,
      y: 17,
      style: {
        text: t,
        textAlign: "center",
        textVerticalAlign: "middle",
        font: `bold 16.5px ${FONT}`,
        fill: "#000",
      },
    });
  });

  ROWS.forEach((row, r) => {
    for (let c = 0; c < 4; c++) {
      const idx = r * 4 + c;
      grid.push({
        left: PANEL_LEFT[c],
        top: PANEL_TOP[r],
        width: PANEL_W,
        height: PANEL_H,
        show: true,
        borderColor: "#000",
        borderWidth: 1,
        backgroundColor: "transparent",
      });
      const bottomRow = r === 2;
      xAxis.push({
        type: "value",
        gridIndex: idx,
        position: "bottom",
        min: -0.04,
        max: 1.04,
        axisLine: { show: false, onZero: false },
        splitLine: { show: false },
        axisTick: {
          show: bottomRow,
          customValues: X_TICKS,
          length: 6,
          inside: false,
          lineStyle: { color: "#000", width: 1 },
        },
        axisLabel: {
          show: bottomRow,
          customValues: X_TICKS,
          formatter: fmt,
          margin: 10,
          color: "#000",
          fontSize: 15,
          fontFamily: FONT,
        },
      });
      const firstCol = c === 0;
      yAxis.push({
        type: "value",
        gridIndex: idx,
        position: "left",
        min: Y_RANGES[r][0],
        max: Y_RANGES[r][1],
        axisLine: { show: false, onZero: false },
        splitLine: { show: false },
        axisTick: {
          show: firstCol,
          customValues: Y_TICKS[r],
          length: 6,
          inside: false,
          lineStyle: { color: "#000", width: 1 },
        },
        axisLabel: {
          show: firstCol,
          customValues: Y_LABELS[r],
          formatter: fmt,
          rotate: 90,
          margin: 10,
          color: "#000",
          fontSize: 15,
          fontFamily: FONT,
        },
      });

      row.fits[c].forEach((ys) => {
        series.push({
          type: "line",
          xAxisIndex: idx,
          yAxisIndex: idx,
          data: row.xs.map((x, i) => [x, ys[i]]),
          smooth: 0.4,
          symbol: "none",
          silent: true,
          z: 2,
          lineStyle: { color: ORANGE, width: 1, opacity: 0.7 },
        });
      });
      row.truth.forEach(([tx, ty]) => {
        series.push({
          type: "line",
          xAxisIndex: idx,
          yAxisIndex: idx,
          data: tx.map((x, i) => [x, ty[i]]),
          smooth: 0.4,
          symbol: "none",
          silent: true,
          z: 3,
          lineStyle: { color: BLUE, width: 3.5, type: [14.5, 14.5], cap: "round" },
        });
      });
    }
  });

  return {
    animation: false,
    backgroundColor: "#fff",
    grid,
    xAxis,
    yAxis,
    series,
    graphic,
  };
}

export default function App() {
  const ref = useRef<HTMLDivElement>(null);
  useEffect(() => {
    if (!ref.current) return;
    const chart = echarts.init(ref.current, undefined, { renderer: "svg" });
    chart.setOption(buildOption());
    return () => chart.dispose();
  }, []);
  return (
    <div
      ref={ref}
      style={{ position: "fixed", left: 0, top: 0, width: 1154, height: 587, background: "#fff" }}
    />
  );
}
